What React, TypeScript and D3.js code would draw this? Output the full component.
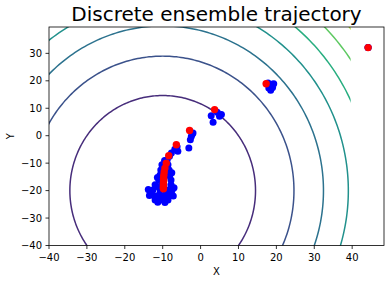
import React from "react";
import * as d3 from "d3";

const title = "Discrete ensemble trajectory";
const xTicks = [-40, -30, -20, -10, 0, 10, 20, 30, 40];
const yTicks = [-40, -30, -20, -10, 0, 10, 20, 30];
const levels = [1200, 2400, 3600, 4800, 6000, 7200, 8400];
const levelMax = 9600;
const center = [-10, -20];

const meanX = [44.2, 17.3, 3.7, -2.9, -6.4, -8.4, -9.05, -9.4, -9.6, -9.7, -9.75, -9.75, -9.8, -9.8, -9.8, -9.8, -9.8];
const meanY = [32.1, 18.9, 9.5, 1.9, -3.3, -7.3, -10.0, -11.8, -13.2, -14.4, -15.5, -16.4, -17.2, -17.9, -18.5, -19.0, -19.3];

const ensX = [
  44.2, 44.2,
  17.8, 18.8, 18.0, 19.0, 18.3, 18.5, 19.3,
  2.8, 4.4, 5.5, 3.3, 5.0,
  -2.0, -2.7, -3.1, -2.45, -2.2,
  -6.0, -6.8, -6.2,
  -8.8, -7.7, -9.5, -8.2,
  -9.8, -9.6,
  -10.2, -8.6, -10.5, -8.3, -10.7, -8.1, -11.0, -7.8, -12.0, -9.7, -7.8,
  -12.6, -10.7, -8.9, -7.5, -12.6, -11.0, -9.4, -7.6, -12.0, -10.5, -8.6,
  -9.5, -9.8, -11.5, -8.5, -13.3, -11.8, -9.0, -10.2,
  -13.8, -13.5, -7.0, -7.2, -11.3, -9.4, -7.6, -11.4,
];
const ensY = [
  32.1, 32.1,
  19.2, 18.7, 17.4, 17.6, 18.2, 16.6, 18.9,
  7.3, 8.5, 7.7, 4.9, 7.1,
  1.0, -1.5, -4.5, -0.25, 0.5,
  -5.7, -4.9, -4.0,
  -8.8, -6.3, -9.0, -7.5,
  -10.6, -13.0,
  -10.6, -10.6, -12.5, -12.5, -14.3, -14.3, -16.1, -16.1, -17.9, -17.9, -17.9,
  -19.8, -19.8, -19.8, -19.8, -21.6, -21.6, -21.6, -21.6, -23.4, -23.4, -23.4,
  -15.0, -13.0, -18.5, -20.5, -20.6, -22.5, -22.6, -17.0,
  -19.6, -21.8, -19.0, -22.0, -24.2, -24.3, -13.5, -15.2,
];

const W = 391, H = 283;
const L = 49, R = 384, T = 27, B = 245.5;
const gridMax = 39.6;

export default function App() {
  const x = d3.scaleLinear().domain([-40, 48.4]).range([L, R]);
  const y = d3.scaleLinear().domain([-40, gridMax]).range([B, T]);
  const line = d3.line<[number, number]>().x(d => x(d[0])).y(d => y(d[1]));
  const angles = d3.range(0, 361).map(a => (a * Math.PI) / 180);
  const font = "DejaVu Sans, sans-serif";

  return (
    <svg width={W} height={H} style={{ position: "absolute", left: 0, top: 0, background: "#fff" }}>
      <defs>
        <clipPath id="grid">
          <rect x={x(-40)} y={y(gridMax)} width={x(gridMax) - x(-40)} height={y(-40) - y(gridMax)} />
        </clipPath>
        <clipPath id="axes">
          <rect x={L} y={T} width={R - L} height={B - T} />
        </clipPath>
      </defs>
      <rect x={0} y={0} width={W} height={H} fill="#fff" />
      <g clipPath="url(#grid)">
        {levels.map(lv => {
          const rx = Math.sqrt(lv / 2), ry = Math.sqrt(lv);
          const pts = angles.map(a => [center[0] + rx * Math.cos(a), center[1] + ry * Math.sin(a)] as [number, number]);
          return <path key={lv} d={line(pts) || ""} fill="none" stroke={d3.interpolateViridis(lv / levelMax)} strokeWidth={1.5} />;
        })}
      </g>
      <g clipPath="url(#axes)">
        {ensX.map((v, i) => (
          <circle key={"b" + i} cx={x(v)} cy={y(ensY[i])} r={3.5} fill="#0000ff" />
        ))}
        {meanX.map((v, i) => (
          <circle key={"r" + i} cx={x(v)} cy={y(meanY[i])} r={3.7} fill="#ff0000" />
        ))}
      </g>
      <rect x={L} y={T} width={R - L} height={B - T} fill="none" stroke="#000" strokeWidth={0.8} />
      {xTicks.map(t => (
        <g key={"x" + t}>
          <line x1={x(t)} x2={x(t)} y1={B} y2={B + 3.5} stroke="#000" strokeWidth={0.8} />
          <text x={x(t)} y={B + 15} textAnchor="middle" fontFamily={font} fontSize={10} fill="#000">
            {t < 0 ? "\u2212" + Math.abs(t) : t}
          </text>
        </g>
      ))}
      {yTicks.map(t => (
        <g key={"y" + t}>
          <line x1={L - 3.5} x2={L} y1={y(t)} y2={y(t)} stroke="#000" strokeWidth={0.8} />
          <text x={L - 7} y={y(t) + 3.6} textAnchor="end" fontFamily={font} fontSize={10} fill="#000">
            {t < 0 ? "\u2212" + Math.abs(t) : t}
          </text>
        </g>
      ))}
      <text x={(L + R) / 2} y={275} textAnchor="middle" fontFamily={font} fontSize={10} fill="#000">X</text>
      <text transform={`translate(13.5, ${(T + B) / 2}) rotate(-90)`} textAnchor="middle" fontFamily={font} fontSize={10} fill="#000">Y</text>
      <text x={(L + R) / 2} y={21} textAnchor="middle" fontFamily={font} fontSize={20} fill="#000">{title}</text>
    </svg>
  );
}
